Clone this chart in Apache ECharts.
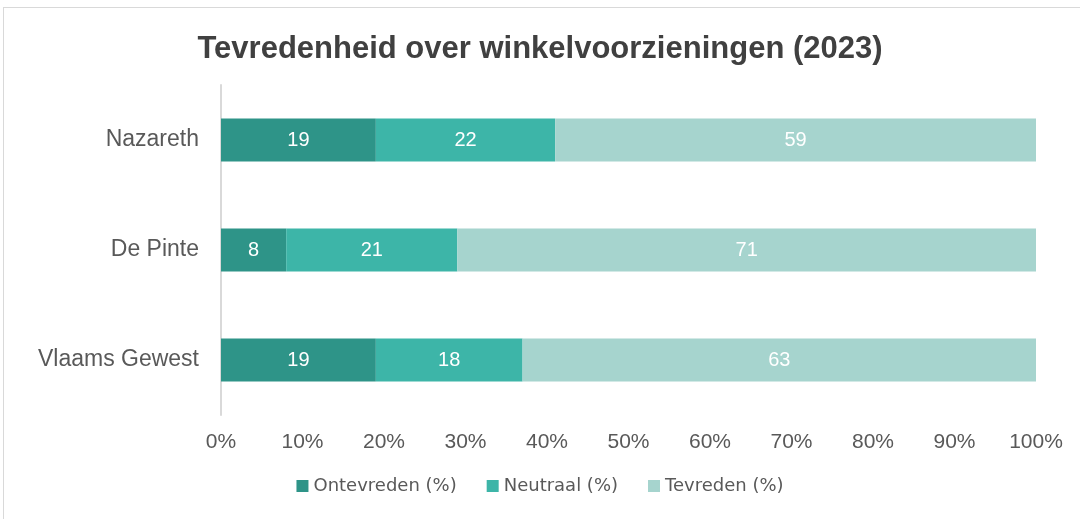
<!DOCTYPE html>
<html>
<head>
<meta charset="utf-8">
<script src="https://cdn.jsdelivr.net/npm/echarts@6/dist/echarts.min.js"></script>
<style>
  html, body { margin: 0; padding: 0; background: #fff; }
  #frame { position: absolute; left: 3px; top: 7px; width: 1090px; height: 520px; border: 1px solid #d9d9d9; }
  #chart { position: absolute; left: 0; top: 0; width: 1080px; height: 519px; }
</style>
</head>
<body>
<div id="frame"></div>
<div id="chart"></div>
<script>
// gemeenten, van onder naar boven
const regions = ['Vlaams Gewest', 'De Pinte', 'Nazareth']
const ontevreden = [19, 8, 19]
const neutraal = [18, 21, 22]
const tevreden = [63, 71, 59]
const xTicks = [0, 10, 20, 30, 40, 50, 60, 70, 80, 90, 100]

const colors = ['#2e9488', '#3db5a8', '#a6d4ce']
const font = '"Liberation Sans", Arial, sans-serif'

let chart = echarts.init(document.getElementById('chart'))

function barSeries (name, values, color) {
  return {
    name: name,
    type: 'bar',
    stack: 'totaal',
    barWidth: 43,
    data: values,
    itemStyle: { color: color },
    label: {
      show: true,
      position: 'inside',
      color: '#fff',
      fontSize: 20,
      fontFamily: font
    }
  }
}

chart.setOption({
  animation: false,
  title: {
    text: 'Tevredenheid over winkelvoorzieningen (2023)',
    left: 'center',
    top: 29,
    textStyle: { fontSize: 31, fontWeight: 'bold', color: '#404040', fontFamily: font }
  },
  legend: {
    bottom: 19,
    left: 'center',
    itemWidth: 12,
    itemHeight: 12,
    itemGap: 30,
    icon: 'rect',
    textStyle: { fontSize: 18, color: '#595959', fontFamily: '"DejaVu Sans", sans-serif' }
  },
  grid: { left: 221, right: 44, top: 85, bottom: 104 },
  xAxis: {
    type: 'value',
    min: xTicks[0],
    max: xTicks[xTicks.length - 1],
    interval: 10,
    axisLine: { show: false },
    axisTick: { show: false },
    splitLine: { show: false },
    axisLabel: {
      formatter: '{value}%',
      margin: 17,
      fontSize: 21,
      color: '#595959',
      fontFamily: font
    }
  },
  yAxis: {
    type: 'category',
    data: regions,
    axisLine: { lineStyle: { color: '#d9d9d9', width: 2 } },
    axisTick: { show: false },
    axisLabel: { margin: 22, fontSize: 23, color: '#595959', fontFamily: font }
  },
  series: [
    barSeries('Ontevreden (%)', ontevreden, colors[0]),
    barSeries('Neutraal (%)', neutraal, colors[1]),
    barSeries('Tevreden (%)', tevreden, colors[2])
  ]
})
</script>
</body>
</html>
